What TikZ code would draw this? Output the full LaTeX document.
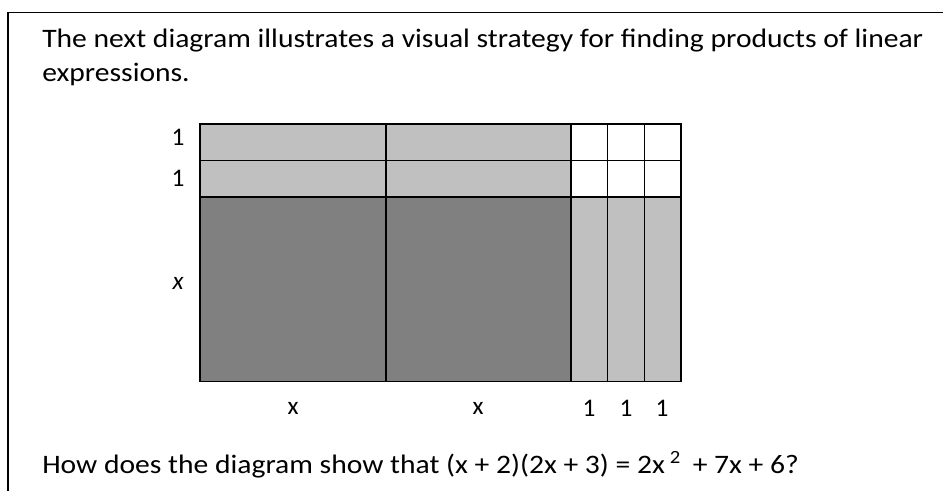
\documentclass[tikz,border=0pt]{standalone}
\usepackage{fontspec}
\setmainfont{Carlito}
\usepackage{graphicx}
\usepackage{tikz}
\usetikzlibrary{positioning}
\definecolor{tiledark}{HTML}{808080}
\definecolor{tilelight}{HTML}{C0C0C0}
\newcommand{\widetext}[1]{\scalebox{1.11}[1]{#1}}

\begin{document}
\begin{tikzpicture}[
    x=0.75pt, y=-0.75pt,
    dark/.style={draw=black, fill=tiledark, line width=1.1pt},
    light/.style={draw=black, fill=tilelight, line width=1.1pt},
    unit/.style={draw=black, fill=white, line width=1.1pt},
    txt/.style={font=\fontsize{20}{24}\selectfont, anchor=base west, inner sep=0pt},
    lbl/.style={font=\fontsize{19}{23}\selectfont, inner sep=0pt},
]
    \useasboundingbox (0,0) rectangle (943,491);
    \draw[line width=1.1pt] (8,491) -- (8,12.5) -- (943,12.5);

    \node[txt] (intro1) at (42,48) {\widetext{The next diagram illustrates a visual strategy for finding products of linear}};
    \node[txt] (intro2) at (42,81.5) {\widetext{expressions.}};

    % x by x squares
    \draw[dark] (200,197) rectangle (386,381.5);
    \draw[dark] (386,197) rectangle (571,381.5);

    % x by 1 strips
    \draw[light] (200,124) rectangle (386,160.5);
    \draw[light] (386,124) rectangle (571,160.5);
    \draw[light] (200,160.5) rectangle (386,197);
    \draw[light] (386,160.5) rectangle (571,197);
    \foreach \c in {571,607.7,644.3}
        \draw[light] (\c,197) rectangle ++(36.7,184.5);

    % 1 by 1 squares
    \foreach \c in {571,607.7,644.3} {
        \draw[unit] (\c,124) rectangle ++(36.7,36.5);
        \draw[unit] (\c,160.5) rectangle ++(36.7,36.5);
    }

    \node[lbl] (side1) at (178,137) {1};
    \node[lbl] (side2) at (178,178) {1};
    \node[lbl] (sidex) at (178,283) {\itshape x};

    \node[lbl] (basex1) at (293,408) {x};
    \node[lbl] (basex2) at (478,408) {x};
    \node[lbl] (base1) at (589,408) {1};
    \node[lbl] (base2) at (626,408) {1};
    \node[lbl] (base3) at (662,408) {1};

    \node[txt] (question) at (42,474) {\widetext{How does the diagram show that (x + 2)(2x + 3) = 2x\,\textsuperscript{2}\, + 7x + 6?}};
\end{tikzpicture}
\end{document}
